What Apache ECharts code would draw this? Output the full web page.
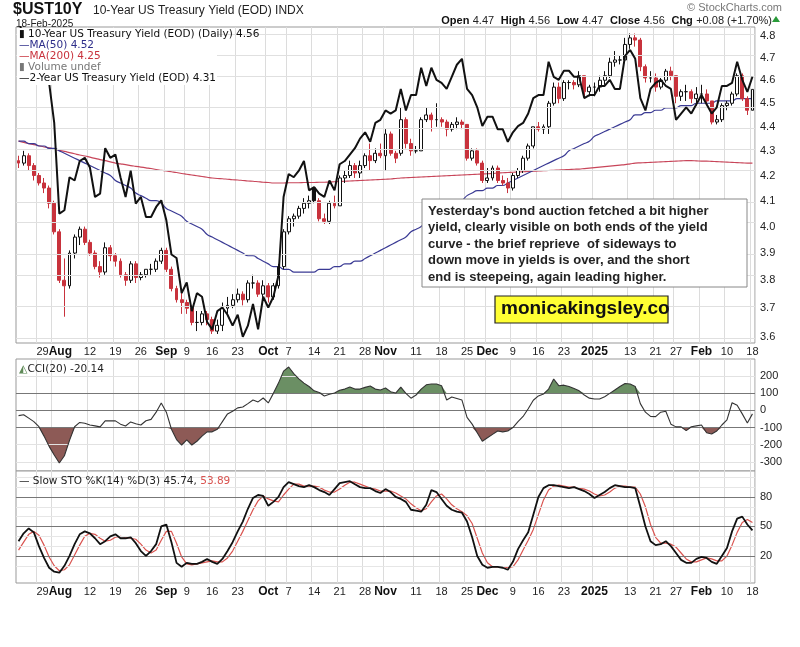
<!DOCTYPE html>
<html><head><meta charset="utf-8">
<script src="https://cdn.jsdelivr.net/npm/echarts@6/dist/echarts.min.js"></script>
<style>html,body{margin:0;padding:0;background:#fff}#c{width:800px;height:647px}</style>
</head><body><div id="c"></div>
<script>
// ---------- DATA ----------
const startDate = '2024-07-23', endDate = '2025-02-18';
const holidays = ['2024-09-02','2024-11-28','2024-12-25','2025-01-01','2025-01-20','2025-02-17'];
const opens = [4.26,4.25,4.28,4.24,4.20,4.17,4.15,4.09,3.98,3.80,3.78,3.90,3.96,3.99,3.94,3.90,3.85,3.83,3.92,3.89,3.87,3.82,3.80,3.86,3.81,3.82,3.84,3.84,3.87,
3.91,3.84,3.77,3.73,3.72,3.70,3.65,3.65,3.68,3.66,3.62,3.64,3.70,3.71,3.73,3.75,3.73,3.79,3.79,3.75,
3.78,3.74,3.78,3.85,3.98,4.03,4.04,4.07,4.09,4.15,4.10,4.03,4.02,4.09,4.08,4.19,4.20,4.24,4.21,4.24,4.28,4.26,4.29,
4.28,4.37,4.29,4.29,4.43,4.33,4.30,4.30,4.43,4.45,4.43,4.43,4.42,4.39,4.41,4.42,4.41,4.27,4.30,4.25,
4.18,4.19,4.23,4.18,4.17,4.15,4.20,4.22,4.27,4.32,4.40,4.39,4.40,4.50,4.57,4.52,4.59,4.59,4.58,4.62,4.55,
4.57,4.57,4.60,4.62,4.68,4.69,4.69,4.76,4.79,4.78,4.66,4.61,4.61,4.57,4.60,4.64,4.62,4.53,4.55,4.55,4.52,
4.54,4.54,4.51,4.42,4.43,4.49,4.50,4.54,4.62,4.52,4.47];
const highs = [4.28,4.30,4.29,4.25,4.21,4.19,4.16,4.10,3.99,3.88,3.91,3.97,4.00,4.00,3.95,3.91,3.87,3.94,3.93,3.90,3.88,3.83,3.87,3.87,3.83,3.84,3.86,3.88,3.92,
3.92,3.85,3.78,3.76,3.73,3.71,3.69,3.69,3.69,3.67,3.66,3.72,3.74,3.75,3.77,3.76,3.80,3.82,3.80,3.80,
3.79,3.79,3.86,3.99,4.04,4.05,4.08,4.11,4.12,4.15,4.11,4.05,4.10,4.12,4.20,4.22,4.26,4.25,4.26,4.29,4.33,4.31,4.33,
4.39,4.38,4.30,4.48,4.44,4.35,4.32,4.44,4.48,4.46,4.50,4.44,4.43,4.42,4.44,4.43,4.41,4.31,4.31,4.26,
4.23,4.24,4.24,4.20,4.19,4.21,4.23,4.28,4.33,4.40,4.42,4.41,4.51,4.59,4.59,4.60,4.60,4.60,4.64,4.62,4.58,
4.59,4.62,4.64,4.70,4.73,4.71,4.79,4.81,4.81,4.79,4.67,4.64,4.63,4.61,4.65,4.66,4.62,4.56,4.58,4.56,4.57,
4.58,4.56,4.51,4.45,4.50,4.51,4.55,4.63,4.63,4.53,4.56];
const lows = [4.23,4.24,4.22,4.18,4.16,4.13,4.07,3.97,3.79,3.67,3.77,3.88,3.93,3.93,3.89,3.84,3.81,3.82,3.87,3.85,3.81,3.78,3.79,3.79,3.80,3.81,3.82,3.83,3.86,
3.83,3.76,3.72,3.68,3.68,3.64,3.62,3.64,3.64,3.61,3.61,3.62,3.68,3.70,3.72,3.71,3.72,3.77,3.74,3.74,
3.72,3.73,3.77,3.84,3.97,4.00,4.03,4.05,4.07,4.09,4.02,4.01,4.01,4.07,4.08,4.17,4.19,4.19,4.19,4.23,4.22,4.25,4.27,
4.22,4.28,4.25,4.28,4.31,4.28,4.29,4.30,4.42,4.38,4.40,4.40,4.36,4.38,4.39,4.39,4.26,4.26,4.24,4.17,
4.17,4.18,4.17,4.16,4.13,4.14,4.19,4.21,4.26,4.31,4.38,4.37,4.37,4.49,4.50,4.51,4.56,4.56,4.57,4.52,4.53,
4.53,4.55,4.58,4.61,4.66,4.67,4.68,4.74,4.75,4.64,4.59,4.59,4.55,4.56,4.59,4.60,4.50,4.51,4.51,4.50,4.49,
4.50,4.50,4.41,4.41,4.42,4.47,4.49,4.53,4.51,4.45,4.47];
const closes = [4.25,4.28,4.24,4.20,4.17,4.15,4.09,3.98,3.80,3.78,3.90,3.96,3.99,3.94,3.90,3.85,3.83,3.92,3.89,3.87,3.82,3.80,3.86,3.81,3.82,3.84,3.84,3.87,3.91,
3.84,3.77,3.73,3.72,3.70,3.65,3.65,3.68,3.66,3.62,3.64,3.70,3.71,3.73,3.75,3.73,3.79,3.79,3.75,3.78,
3.74,3.78,3.85,3.98,4.03,4.04,4.07,4.09,4.10,4.10,4.03,4.02,4.09,4.08,4.19,4.20,4.24,4.21,4.24,4.28,4.26,4.29,4.28,
4.37,4.29,4.27,4.43,4.33,4.30,4.30,4.43,4.45,4.43,4.43,4.42,4.39,4.41,4.42,4.41,4.27,4.30,4.25,4.18,
4.19,4.23,4.18,4.17,4.15,4.20,4.22,4.27,4.32,4.40,4.39,4.40,4.50,4.57,4.52,4.59,4.59,4.58,4.62,4.55,4.57,
4.57,4.60,4.62,4.68,4.69,4.69,4.76,4.79,4.78,4.66,4.61,4.61,4.57,4.60,4.64,4.62,4.53,4.55,4.55,4.52,4.54,
4.54,4.51,4.42,4.43,4.49,4.50,4.54,4.62,4.52,4.47,4.56];
const ma50 = [4.34,4.34,4.33,4.33,4.32,4.32,4.31,4.31,4.30,4.29,4.28,4.27,4.26,4.25,4.24,4.23,4.22,4.21,4.20,4.18,
4.17,4.16,4.15,4.13,4.12,4.11,4.10,4.10,4.09,4.07,4.06,4.05,4.04,4.02,4.01,4.00,3.99,3.97,3.96,3.95,3.94,3.93,3.92,
3.91,3.90,3.89,3.89,3.88,3.87,3.86,3.85,3.85,3.84,3.84,3.83,3.83,3.83,3.83,3.83,3.84,3.84,3.84,3.85,3.85,3.86,3.86,3.87,3.87,3.88,
3.89,3.90,3.91,3.92,3.93,3.94,3.95,3.96,3.98,3.99,4.00,4.02,4.03,4.04,4.05,4.07,4.08,4.09,4.10,4.12,4.13,
4.14,4.14,4.15,4.15,4.16,4.16,4.17,4.18,4.19,4.20,4.21,4.22,4.23,4.24,4.25,4.26,4.27,4.28,4.30,4.31,4.32,4.33,4.34,
4.36,4.37,4.38,4.39,4.40,4.41,4.42,4.43,4.45,4.45,4.46,4.46,4.47,4.47,4.48,4.48,4.48,4.49,4.49,4.49,4.50,4.50,
4.50,4.50,4.51,4.51,4.51,4.51,4.52,4.52,4.52,4.52];
const ma200 = [4.340,4.335,4.330,4.326,4.321,4.316,4.312,4.307,4.302,4.298,4.293,4.288,4.283,4.279,4.274,4.269,4.264,4.260,4.255,4.250,
4.247,4.244,4.240,4.237,4.234,4.231,4.228,4.224,4.221,4.218,4.215,4.212,4.208,4.205,4.202,4.199,4.196,4.193,4.190,
4.188,4.187,4.185,4.183,4.182,4.180,4.178,4.177,4.175,4.173,4.172,4.170,
4.170,4.170,4.171,4.171,4.171,4.172,4.172,4.172,4.173,4.173,4.174,4.175,
4.176,4.177,4.178,4.179,4.180,4.181,4.182,4.183,4.184,4.185,4.186,4.188,4.190,
4.191,4.192,4.193,4.194,4.195,4.196,4.197,4.198,4.199,4.200,4.201,4.202,4.203,4.204,4.205,4.206,4.207,4.208,4.210,
4.211,4.212,4.213,4.214,4.215,4.216,4.217,4.218,4.219,4.220,4.221,4.222,4.223,4.224,4.225,4.226,4.228,4.230,
4.232,4.234,4.236,4.238,4.240,4.242,4.244,4.247,4.250,
4.251,4.252,4.253,4.254,4.255,4.256,4.257,4.258,4.259,4.260,
4.260,4.259,4.258,4.258,4.257,4.256,4.255,4.254,4.253,4.252,4.251,4.250,4.250];
const y2 = [4.51,4.43,4.43,4.38,4.37,4.36,4.29,4.16,3.88,3.89,3.99,3.98,4.04,4.05,4.02,3.93,3.94,4.08,4.05,4.06,3.99,3.93,4.01,3.91,3.93,3.87,3.87,3.90,3.92,
3.86,3.76,3.75,3.65,3.68,3.60,3.65,3.64,3.57,3.55,3.60,3.61,3.59,3.56,3.59,3.53,3.56,3.62,3.55,3.64,
3.61,3.64,3.70,3.93,4.00,3.99,4.01,4.04,3.95,3.96,3.94,3.93,3.98,3.95,4.03,4.04,4.06,4.08,4.11,4.13,4.10,4.16,4.17,
4.20,4.19,4.20,4.27,4.20,4.25,4.25,4.34,4.28,4.34,4.30,4.29,4.27,4.31,4.35,4.37,4.27,4.25,4.21,4.15,
4.18,4.18,4.14,4.14,4.10,4.13,4.15,4.16,4.19,4.24,4.25,4.25,4.36,4.31,4.30,4.33,4.33,4.31,4.31,4.24,4.25,
4.25,4.28,4.28,4.30,4.27,4.27,4.38,4.40,4.37,4.24,4.20,4.27,4.29,4.30,4.28,4.27,4.17,4.19,4.21,4.19,4.22,
4.25,4.22,4.19,4.21,4.28,4.28,4.29,4.36,4.30,4.26,4.31];
const cci = [-30,-25,-45,-65,-95,-150,-210,-260,-307,-265,-175,-95,-70,-75,-85,-90,-96,-61,-61,-61,-80,-91,-67,-78,-85,-60,-52,-10,44,-10,
-110,-170,-202,-172,-202,-180,-150,-125,-125,-110,-65,-20,-5,15,20,40,61,50,73,44,
100,160,230,254,215,185,160,140,115,105,85,95,102,118,125,137,125,125,135,143,125,120,131,110,102,137,100,72,90,125,
150,155,155,145,61,79,70,61,-40,-80,-130,-180,-160,-140,-120,-125,-120,-100,-65,-35,10,60,85,96,125,184,145,148,140,128,
115,90,72,67,67,80,100,120,140,158,155,140,40,-10,-35,-36,-10,-5,-80,-96,-96,-118,-95,-90,-85,-130,-138,-120,-85,-55,
45,30,-20,-73,-20];
const stoK = [35,43,48,44,30,18,8,4,3,10,20,32,42,45,43,38,32,35,40,42,38,38,39,33,25,20,25,32,50,52,
34,13,9,13,12,12,14,17,14,12,17,25,34,45,55,68,79,82,81,71,75,80,90,95,93,91,90,92,90,87,
85,82,88,94,95,96,93,90,89,89,86,84,88,85,80,78,75,67,66,65,72,87,85,78,71,67,65,64,55,39,
20,11,8,9,9,8,6,14,27,36,44,62,80,89,92,92,91,90,89,90,88,86,83,79,82,85,89,92,91,90,
90,89,70,50,35,31,32,35,30,23,16,13,13,17,19,18,14,12,20,28,45,58,60,52,46];
const stoD = [26,34,42,45,41,31,19,10,5,6,11,21,31,40,43,42,38,35,36,39,40,39,38,37,32,26,23,26,36,45,
45,33,19,12,11,12,13,14,15,14,14,18,25,35,45,56,67,76,81,78,76,75,82,88,93,93,91,91,91,90,
87,85,85,88,92,95,95,93,91,89,88,86,86,86,84,81,78,73,69,66,68,75,81,83,78,72,68,65,61,53,
38,23,13,9,9,9,8,9,16,26,36,47,62,77,87,91,92,91,90,90,89,88,86,83,81,82,85,89,91,91,
90,90,83,70,52,39,33,33,32,29,23,17,14,14,16,18,17,15,15,20,31,44,54,57,54];
const priceTicks = [3.6,3.7,3.8,3.9,4.0,4.1,4.2,4.3,4.4,4.5,4.6,4.7,4.8];
const cciTicks = [200,100,0,-100,-200,-300];
const stoTicks = [80,50,20];
const tickDates = ['2024-07-29','2024-08-01','2024-08-12','2024-08-19','2024-08-26','2024-09-03','2024-09-09','2024-09-16','2024-09-23',
'2024-10-01','2024-10-07','2024-10-14','2024-10-21','2024-10-28','2024-11-01','2024-11-11','2024-11-18','2024-11-25','2024-12-02',
'2024-12-09','2024-12-16','2024-12-23','2025-01-02','2025-01-13','2025-01-21','2025-01-27','2025-02-03','2025-02-10','2025-02-18'];
const tickLabels = ['29','Aug','12','19','26','Sep','9','16','23','Oct','7','14','21','28','Nov','11','18','25','Dec','9','16','23','2025','13','21','27','Feb','10','18'];

// ---------- BUILD ----------
const dates = [];
(function(){ let d = new Date(startDate+'T00:00:00Z'); const e = new Date(endDate+'T00:00:00Z');
  while (d <= e) { const s = d.toISOString().slice(0,10); const w = d.getUTCDay();
    if (w !== 0 && w !== 6 && holidays.indexOf(s) < 0) dates.push(s); d = new Date(d.getTime()+86400000); } })();
const labelMap = {}; tickDates.forEach((d,i)=>labelMap[d]=tickLabels[i]);
const isMonth = l => isNaN(+l) || l==='2025';
const L = Math.log;
const candle = dates.map((d,i)=>{
  const o=opens[i], c=closes[i], prev = i>0?closes[i-1]:o;
  const red = c < prev; const border = red ? '#c8323c' : '#111';
  const fill = c > o ? '#fff' : (red ? '#c8323c' : '#111');
  return {value:[L(o),L(c),L(lows[i]),L(highs[i])], itemStyle:{color:fill,color0:fill,borderColor:border,borderColor0:border}};
});
// the "29" label (Jul 29) is printed attached to "Aug", as in the reference
const xLab = (show)=>({show, hideOverlap:false, interval:(i,v)=>labelMap[v]!==undefined && v!==tickDates[0],
  formatter:v=>{const l=labelMap[v]||''; if (v===tickDates[1]) return '{s|'+tickLabels[0]+'}{b|'+l+'}'; return isMonth(l)?'{b|'+l+'}':l;},
  fontSize:11, color:'#222', fontFamily:'Liberation Sans', margin:3,
  rich:{b:{fontWeight:'bold',fontSize:12,color:'#111',fontFamily:'Liberation Sans'},s:{fontSize:11,color:'#222',fontFamily:'Liberation Sans'}}});
const xAx = (gi, show)=>({type:'category', gridIndex:gi, data:dates, boundaryGap:true,
  axisLine:{show:false}, axisTick:{show:false}, axisLabel:xLab(show),
  splitLine:{show:true, interval:(i,v)=>labelMap[v]!==undefined, lineStyle:{color:'#dcdcdc',width:1}}});
const hline = (vals, color, type, w)=>vals.map(v=>({yAxis:v, lineStyle:{color, type, width:w||1}}));
const lblStyle = {fontSize:11,color:'#222',fontFamily:'Liberation Sans',margin:5};
const ccAbove = cci.map(v=>Math.max(v-100,0)), ccBelow = cci.map(v=>Math.min(v+100,0));

const option = {
  animation:false, backgroundColor:'#fff',
  grid:[
    {left:16,right:45,top:27,height:316,show:true,borderColor:'#999',borderWidth:1,backgroundColor:'#fff'},
    {left:16,right:45,top:359,height:112,show:true,borderColor:'#999',borderWidth:1,backgroundColor:'#fff'},
    {left:16,right:45,top:471,height:112,show:true,borderColor:'#999',borderWidth:1,backgroundColor:'#fff'}],
  xAxis:[xAx(0,true), xAx(1,false), xAx(2,true)],
  yAxis:[
    {type:'value',gridIndex:0,position:'right',min:L(3.579),max:L(4.84),splitLine:{show:false},axisLine:{show:false},axisTick:{show:false},
     axisLabel:Object.assign({customValues:priceTicks.map(L),formatter:v=>Math.exp(v).toFixed(1)},lblStyle)},
    {type:'value',gridIndex:0,min:L(3.513),max:L(4.478),show:false},
    {type:'value',gridIndex:1,position:'right',min:-354,max:301,splitLine:{show:false},axisLine:{show:false},axisTick:{show:false},
     axisLabel:Object.assign({customValues:cciTicks},lblStyle)},
    {type:'value',gridIndex:2,position:'right',min:-7.5,max:106.4,splitLine:{show:false},axisLine:{show:false},axisTick:{show:false},
     axisLabel:Object.assign({customValues:stoTicks},lblStyle)}],
  series:[
    {type:'line',xAxisIndex:0,yAxisIndex:0,data:dates.map(()=>null),silent:true,z:1,
     markLine:{silent:true,symbol:'none',label:{show:false},data:hline(priceTicks.map(L),'#e0e0e0','solid')}},
    {type:'line',xAxisIndex:0,yAxisIndex:0,data:ma200.map(L),showSymbol:false,smooth:true,lineStyle:{color:'#c8465a',width:1.2},z:3},
    {type:'line',xAxisIndex:0,yAxisIndex:0,data:ma50.map(L),showSymbol:false,smooth:true,lineStyle:{color:'#3a3a94',width:1.2},z:3},
    {type:'candlestick',xAxisIndex:0,yAxisIndex:0,data:candle,barWidth:3.4,z:4},
    {type:'line',xAxisIndex:0,yAxisIndex:1,data:y2.map(L),showSymbol:false,lineStyle:{color:'#111',width:2},z:5},
    {type:'line',xAxisIndex:1,yAxisIndex:2,data:cci.map(()=>100),stack:'up',showSymbol:false,lineStyle:{width:0},silent:true,
     markLine:{silent:true,symbol:'none',label:{show:false},data:hline([200,-200,-300],'#e2e2e2','solid').concat(hline([100,-100],'#777','solid')).concat(hline([0],'#777','dashDot'))}},
    {type:'line',xAxisIndex:1,yAxisIndex:2,data:ccAbove,stack:'up',showSymbol:false,lineStyle:{width:0},areaStyle:{color:'#6b8f64',opacity:1},silent:true},
    {type:'line',xAxisIndex:1,yAxisIndex:2,data:cci.map(()=>-100),stack:'dn',showSymbol:false,lineStyle:{width:0},silent:true},
    {type:'line',xAxisIndex:1,yAxisIndex:2,data:ccBelow,stack:'dn',showSymbol:false,lineStyle:{width:0},areaStyle:{color:'#8d5a56',opacity:1},silent:true},
    {type:'line',xAxisIndex:1,yAxisIndex:2,data:cci,showSymbol:false,lineStyle:{color:'#333',width:1.1},z:5},
    {type:'line',xAxisIndex:2,yAxisIndex:3,data:stoD,showSymbol:false,lineStyle:{color:'#d9534f',width:1.2},z:4,
     markLine:{silent:true,symbol:'none',label:{show:false},data:hline([10,30,40,60,70,90,100],'#e6e6e6','solid').concat(hline([80,20],'#777','solid')).concat(hline([50],'#777','dashDot'))}},
    {type:'line',xAxisIndex:2,yAxisIndex:3,data:stoK,showSymbol:false,lineStyle:{color:'#111',width:1.8},z:5}
  ],
  graphic:[
    {type:'text',left:13,top:2,style:{text:'$UST10Y',font:'bold 16px "Liberation Sans"',fill:'#111'}},
    {type:'text',left:93,top:5,style:{text:'10-Year US Treasury Yield (EOD) INDX',font:'12px "Liberation Sans"',fill:'#222'}},
    {type:'text',left:16,top:19,style:{text:'18-Feb-2025',font:'10px "Liberation Sans"',fill:'#222'}},
    {type:'text',right:18,top:2,style:{text:'© StockCharts.com',font:'11px "Liberation Sans"',fill:'#777'}},
    {type:'text',right:28,top:15,style:{rich:{b:{font:'bold 11px "Liberation Sans"',fill:'#111'},n:{font:'11px "Liberation Sans"',fill:'#222'}},
      text:'{b|Open} {n|4.47}  {b|High} {n|4.56}  {b|Low} {n|4.47}  {b|Close} {n|4.56}  {b|Chg} {n|+0.08 (+1.70%)}'}},
    {type:'polygon',shape:{points:[[772,22],[780,22],[776,16]]},style:{fill:'#2a9a3a'}},
    {type:'rect',shape:{x:17,y:28,width:200,height:57},style:{fill:'#fff'},z:100},
    {type:'text',left:19,top:29,z:101,style:{text:'▮ 10-Year US Treasury Yield (EOD) (Daily) 4.56',font:'10.5px "DejaVu Sans"',fill:'#111'}},
    {type:'text',left:19,top:40,z:101,style:{text:'—MA(50) 4.52',font:'10.5px "DejaVu Sans"',fill:'#2e2e8a'}},
    {type:'text',left:19,top:51,z:101,style:{text:'—MA(200) 4.25',font:'10.5px "DejaVu Sans"',fill:'#c8323c'}},
    {type:'text',left:19,top:62,z:101,style:{text:'▮ Volume undef',font:'10.5px "DejaVu Sans"',fill:'#777'}},
    {type:'text',left:19,top:73,z:101,style:{text:'—2-Year US Treasury Yield (EOD) 4.31',font:'10.5px "DejaVu Sans"',fill:'#111'}},
    {type:'rect',shape:{x:422,y:199,width:325,height:88},style:{fill:'#fff',stroke:'#888',lineWidth:1},z:100},
    {type:'text',left:428,top:203,z:101,style:{text:"Yesterday's bond auction fetched a bit higher\nyield, clearly visible on both ends of the yield\ncurve - the brief reprieve  of sideways to\ndown move in yields is over, and the short\nend is steepeing, again leading higher.",
      font:'bold 13px "Liberation Sans"',fill:'#222',lineHeight:16.5}},
    {type:'rect',shape:{x:495,y:296,width:173,height:27},style:{fill:'#ffff33',stroke:'#222',lineWidth:1.2},z:100},
    {type:'text',left:501,top:299,z:101,style:{text:'monicakingsley.co',font:'bold 19px "Liberation Sans"',fill:'#111'}},
    {type:'text',left:19,top:364,z:101,style:{rich:{g:{fill:'#5f8a58',font:'11px "DejaVu Sans"'},t:{fill:'#222',font:'10.5px "DejaVu Sans"'}},text:'{g|◭}{t|CCI(20) -20.14}'}},
    {type:'text',left:19,top:475,z:101,style:{rich:{t:{fill:'#222',font:'10.5px "DejaVu Sans"'},r:{fill:'#d9534f',font:'10.5px "DejaVu Sans"'}},text:'{t|— Slow STO %K(14) %D(3) 45.74,} {r|53.89}'}}
  ]
};
echarts.init(document.getElementById('c')).setOption(option);
</script></body></html>
